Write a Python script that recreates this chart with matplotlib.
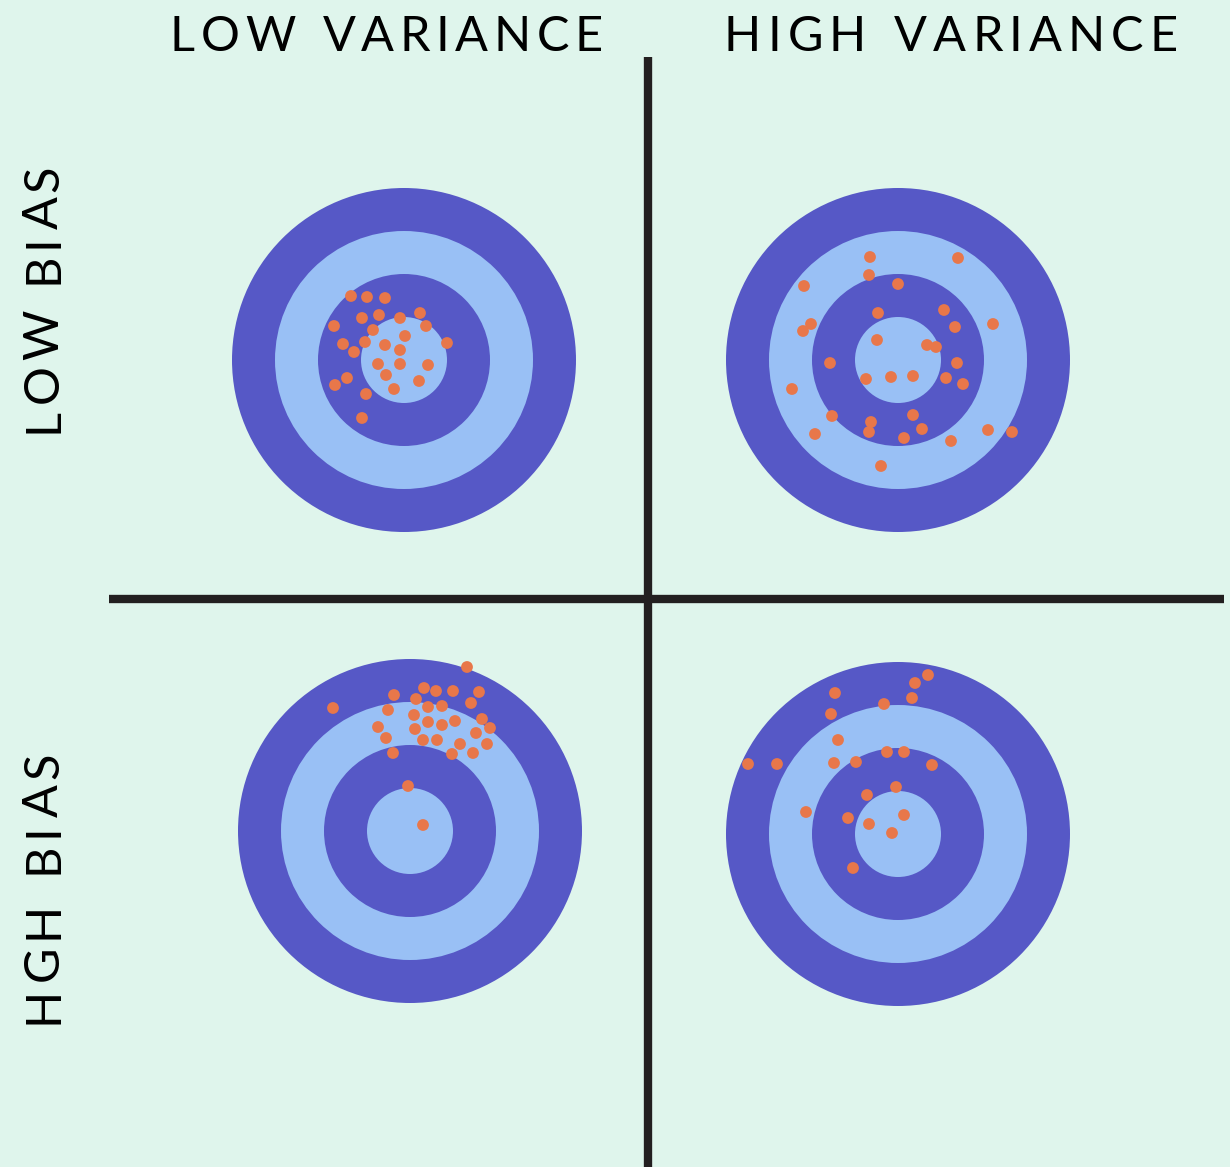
import numpy as np
import matplotlib.pyplot as plt
from matplotlib.patches import Circle

# colours
sfondo = "#dff5ec"
blu_scuro = "#5658c6"
blu_chiaro = "#99c0f5"
arancio = "#e8774a"
nero = "#231f20"
font = "Lato"

col_labels = ["LOW VARIANCE", "HIGH VARIANCE"]
row_labels = ["LOW BIAS", "HGH BIAS"]

# ring radii of the target (px), outer -> inner
ring_radii = [172, 129, 86, 43]

# shots, offset from the bullseye in px (x right, y up)
lowbias_lowvar_x = [-53, -37, -19, 16, -42, -25, -4, -70, 22, -31, 1, -61, -39, -19,
                    43, -50, -4, -26, -4, 24, -18, -57, -69, 15, -10, -38, -42]
lowbias_lowvar_y = [64, 63, 62, 47, 42, 45, 42, 34, 34, 30, 24, 16, 18, 15,
                    17, 8, 10, -4, -4, -5, -15, -18, -25, -21, -29, -34, -58]

lowbias_highvar_x = [-28, 60, -29, -94, 0, -20, 46, -87, -95, 57, 95, -21, 29, 38, -68, 59, -32,
                     -7, 15, 48, 65, -106, -66, 15, -27, -29, 24, -83, 6, 53, 90, 114, -17]
lowbias_highvar_y = [103, 102, 85, 74, 76, 47, 50, 36, 29, 33, 36, 20, 15, 13, -3, -3, -19,
                     -17, -16, -18, -24, -29, -56, -55, -62, -72, -69, -74, -78, -81, -70, -72, -106]

highbias_lowvar_x = [57, 14, 26, 43, 69, -16, 6, 61, -77, -22, 18, 32, 4, 18, 32, 45,
                     72, 80, -32, 5, 66, -24, 13, 27, 50, 77, 42, 63, -17, -2, 13]
highbias_lowvar_y = [164, 143, 140, 140, 139, 136, 132, 128, 123, 121, 124, 125, 116, 109, 106, 110,
                     112, 103, 104, 102, 98, 93, 91, 91, 87, 87, 77, 78, 78, 45, 6]

highbias_highvar_x = [30, 17, 14, -63, -14, -67, -60, -11, 6, -150, -121,
                      -64, -42, 34, -2, -31, -92, -50, 6, -29, -6, -45]
highbias_highvar_y = [159, 151, 136, 141, 130, 120, 94, 82, 82, 70, 70,
                      71, 72, 69, 47, 39, 22, 16, 19, 10, 1, -34]

pannelli = [
    ((404, 360), lowbias_lowvar_x, lowbias_lowvar_y),
    ((898, 360), lowbias_highvar_x, lowbias_highvar_y),
    ((410, 831), highbias_lowvar_x, highbias_lowvar_y),
    ((898, 834), highbias_highvar_x, highbias_highvar_y),
]

W, H = 1230, 1167
fig = plt.figure(figsize=(W / 100, H / 100), dpi=100, facecolor=sfondo)
ax = fig.add_axes([0, 0, 1, 1])
ax.set_xlim(0, W)
ax.set_ylim(H, 0)
ax.set_facecolor(sfondo)
ax.axis("off")

# targets + shots
for (cx, cy), xs, ys in pannelli:
    for i, r in enumerate(ring_radii):
        colore = blu_scuro if i % 2 == 0 else blu_chiaro
        ax.add_patch(Circle((cx, cy), r, facecolor=colore, edgecolor="none", zorder=1))
    ax.scatter(cx + np.array(xs), cy - np.array(ys), s=72, c=arancio,
               edgecolors="none", zorder=3)

# dividing lines
ax.plot([647.5, 647.5], [57, H], color=nero, lw=6, solid_capstyle="butt", zorder=4)
ax.plot([109, 1224], [598.5, 598.5], color=nero, lw=6, solid_capstyle="butt", zorder=4)

renderer = fig.canvas.get_renderer()


def tracked_text(s, start, end, base, vertical=False, size=35):
    # letter-spaced text, spread from start to end
    widths = []
    for ch in s:
        if ch == " ":
            widths.append(size * 0.45)
        else:
            t = ax.text(0, 0, ch, fontsize=size, family=font, fontweight="normal")
            widths.append(t.get_window_extent(renderer).width)
            t.remove()
    gap = (abs(end - start) - sum(widths)) / (len(s) - 1)
    step = -1 if vertical else 1
    pos = start
    for ch, w in zip(s, widths):
        if ch != " ":
            if vertical:
                ax.text(base, pos, ch, fontsize=size, family=font, fontweight="normal",
                        rotation=90, rotation_mode="anchor", ha="left", va="baseline",
                        color="black")
            else:
                ax.text(pos, base, ch, fontsize=size, family=font, fontweight="normal",
                        ha="left", va="baseline", color="black")
        pos += step * (w + gap)


tracked_text(col_labels[0], 170, 603, 51)
tracked_text(col_labels[1], 724, 1178, 51)
tracked_text(row_labels[0], 433, 165, 58, vertical=True)
tracked_text(row_labels[1], 1024, 752, 58, vertical=True)

fig.savefig("out.png", dpi=100, facecolor=sfondo)
